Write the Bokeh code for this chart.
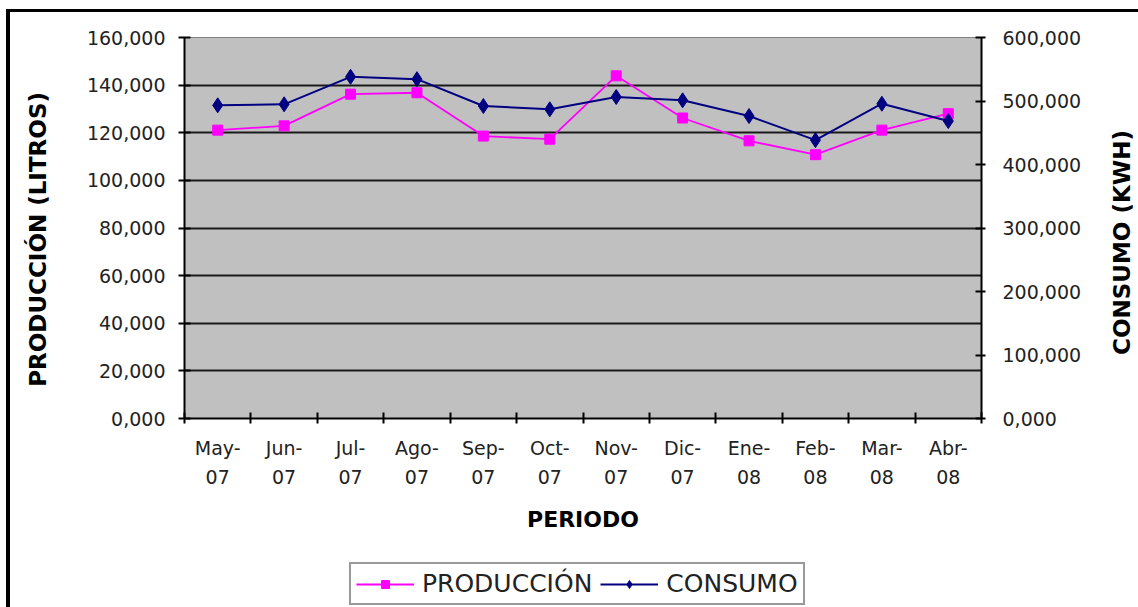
import math
from bokeh.plotting import figure
from bokeh.layouts import column
from bokeh.models import Range1d, LinearAxis, FixedTicker, Legend, LegendItem, Label
from bokeh.embed import file_html
from bokeh.resources import INLINE

# ---- data ----
periodos = ["May-\n07", "Jun-\n07", "Jul-\n07", "Ago-\n07", "Sep-\n07", "Oct-\n07",
            "Nov-\n07", "Dic-\n07", "Ene-\n08", "Feb-\n08", "Mar-\n08", "Abr-\n08"]
produccion = [121100, 122900, 136200, 136800, 118600, 117300,
              143900, 126200, 116600, 110800, 121100, 128000]
consumo = [493200, 494800, 538100, 534400, 492100, 486900,
           506300, 501100, 476300, 438400, 495700, 468400]
left_ticks = [0, 20000, 40000, 60000, 80000, 100000, 120000, 140000, 160000]
left_tick_labels = ["0,000", "20,000", "40,000", "60,000", "80,000", "100,000",
                    "120,000", "140,000", "160,000"]
right_ticks = [0, 100000, 200000, 300000, 400000, 500000, 600000]
right_tick_labels = ["0,000", "100,000", "200,000", "300,000", "400,000",
                     "500,000", "600,000"]

xs = [i + 0.5 for i in range(len(periodos))]

FONT = "DejaVu Sans"
TXT = "#222222"
C_PROD = "#FF00FF"
C_CONS = "#000080"

p = figure(width=1128, height=530, output_backend="svg", toolbar_location=None,
           x_range=Range1d(0, 12), y_range=Range1d(0, 160000),
           min_border_left=174, min_border_right=157, min_border_top=25,
           min_border_bottom=124, x_axis_location=None, y_axis_location=None)
p.background_fill_color = "#C0C0C0"
p.border_fill_color = "white"
p.outline_line_color = "#808080"
p.outline_line_width = 1
p.extra_y_ranges = {"kwh": Range1d(0, 600000)}

# grid
p.xgrid.visible = False
p.ygrid.ticker = FixedTicker(ticks=left_ticks[1:-1])
p.ygrid.grid_line_color = "#1a1a1a"
p.ygrid.grid_line_width = 2

# axes
ya = LinearAxis(ticker=FixedTicker(ticks=left_ticks),
                major_label_overrides=dict(zip(left_ticks, left_tick_labels)))
yb = LinearAxis(y_range_name="kwh", ticker=FixedTicker(ticks=right_ticks),
                major_label_overrides=dict(zip(right_ticks, right_tick_labels)))
xa = LinearAxis(ticker=FixedTicker(ticks=xs, minor_ticks=list(range(13))),
                major_label_overrides=dict(zip(xs, periodos)),
                axis_label="PERIODO")

for ax in (ya, yb, xa):
    ax.axis_line_color = "black"
    ax.axis_line_width = 2
    ax.major_tick_line_color = "black"
    ax.major_tick_line_width = 2
    ax.major_label_text_font = FONT
    ax.major_label_text_font_size = "19px"
    ax.major_label_text_color = TXT
    ax.minor_tick_line_color = None
    ax.axis_label_text_font = FONT
    ax.axis_label_text_font_style = "bold"
    ax.axis_label_text_font_size = "22px"
    ax.axis_label_text_color = "black"

ya.major_tick_in = 6
ya.major_tick_out = 6
ya.major_label_standoff = 13
yb.major_tick_in = 6
yb.major_tick_out = 4
yb.major_label_standoff = 17
xa.major_tick_in = 0
xa.major_tick_out = 0
xa.minor_tick_line_color = "black"
xa.minor_tick_line_width = 2
xa.minor_tick_in = 6
xa.minor_tick_out = 5
xa.major_label_standoff = 13
xa.major_label_text_line_height = 1.36
xa.axis_label_standoff = 16

p.add_layout(ya, "left")
p.add_layout(yb, "right")
p.add_layout(xa, "below")

# vertical axis titles (both read bottom-to-top)
title_style = dict(angle=math.pi / 2, text_font=FONT, text_font_style="bold",
                   text_font_size="23px", text_color="black",
                   text_align="center", text_baseline="middle")
p.add_layout(Label(x=-2.2, y=75200, text="PRODUCCIÓN (LITROS)", **title_style), "left")
p.add_layout(Label(x=14.12, y=73900, text="CONSUMO (KWH)", **title_style), "right")

# series
p.line(xs, produccion, line_color=C_PROD, line_width=1.8)
p.scatter(xs, produccion, marker="square", size=10, fill_color=C_PROD, line_color=C_PROD)
p.line(xs, consumo, line_color=C_CONS, line_width=2, y_range_name="kwh")
p.scatter(xs, consumo, marker="diamond", size=15, fill_color=C_CONS,
          line_color=C_CONS, y_range_name="kwh")

# legend strip below the chart
nan = float("nan")
lg = figure(width=1128, height=65, output_backend="svg", toolbar_location=None,
            x_range=Range1d(0, 1), y_range=Range1d(0, 1), min_border=0,
            x_axis_location=None, y_axis_location=None)
lg.grid.visible = False
lg.outline_line_color = None
lg.background_fill_color = "white"
lg.border_fill_color = "white"
k1 = lg.line([nan], [nan], line_color=C_PROD, line_width=1.8)
s1 = lg.scatter([nan], [nan], marker="square", size=10, fill_color=C_PROD, line_color=C_PROD)
k2 = lg.line([nan], [nan], line_color=C_CONS, line_width=2)
s2 = lg.scatter([nan], [nan], marker="diamond", size=12, fill_color=C_CONS, line_color=C_CONS)

legend = Legend(items=[LegendItem(label="PRODUCCIÓN", renderers=[k1, s1]),
                       LegendItem(label="CONSUMO", renderers=[k2, s2])],
                orientation="horizontal", location=(165, 2))
legend.label_text_font = FONT
legend.label_text_font_size = "25px"
legend.label_text_color = TXT
legend.glyph_width = 58
legend.label_standoff = 8
legend.spacing = 8
legend.padding = 5
legend.margin = 0
legend.border_line_color = "#333333"
legend.border_line_width = 2
legend.background_fill_color = "white"
legend.background_fill_alpha = 1
lg.add_layout(legend, "center")

layout = column(p, lg, spacing=0)
layout.styles = {"margin-left": "6px", "margin-top": "9px",
                 "border-left": "4px solid black", "border-top": "3px solid black"}

open("out.html", "w").write(file_html(layout, INLINE))
